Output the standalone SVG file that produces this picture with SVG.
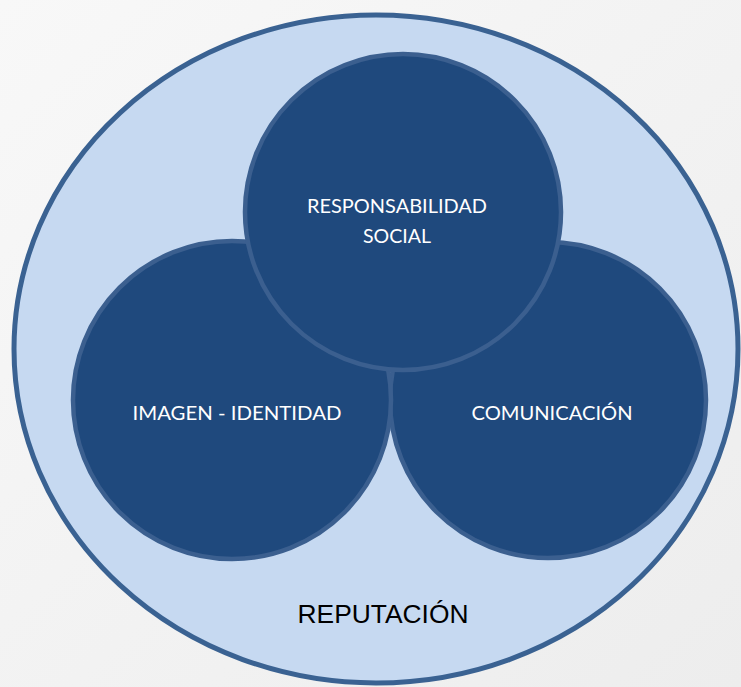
<svg xmlns="http://www.w3.org/2000/svg" width="741" height="687" viewBox="0 0 741 687">
  <defs>
    <linearGradient id="bg" x1="0" y1="0" x2="1" y2="1">
      <stop offset="0" stop-color="#f8f8f8"/>
      <stop offset="1" stop-color="#ededed"/>
    </linearGradient>
    <style>
      .outer { fill: #c6d9f1; stroke: #3a6292; stroke-width: 5; }
      .circ { fill: #1f497d; stroke: #3b5f8f; stroke-width: 4.5; }
      .lbl { font-family: "Lato", "Liberation Sans", sans-serif; font-size: 20px; fill: #ffffff; text-anchor: middle; }
      .rep { font-family: "Liberation Sans", Arial, sans-serif; font-size: 26px; fill: #000000; text-anchor: middle; }
    </style>
  </defs>
  <rect width="741" height="687" fill="url(#bg)"/>
  <g id="reputacion">
    <ellipse class="outer" cx="376" cy="349" rx="362" ry="334"/>
    <text class="rep" x="383" y="623" textLength="171" lengthAdjust="spacingAndGlyphs">REPUTACIÓN</text>
  </g>
  <g id="connectors"/>
  <g id="comunicacion">
    <circle class="circ" cx="548" cy="400" r="158"/>
    <text class="lbl" x="552" y="420" textLength="161" lengthAdjust="spacingAndGlyphs">COMUNICACIÓN</text>
  </g>
  <g id="imagen-identidad">
    <circle class="circ" cx="232" cy="400" r="159"/>
    <text class="lbl" x="237" y="420" textLength="209" lengthAdjust="spacingAndGlyphs">IMAGEN - IDENTIDAD</text>
  </g>
  <g id="responsabilidad-social">
    <circle class="circ" cx="403" cy="212" r="158"/>
    <text class="lbl" x="397" y="213" textLength="180" lengthAdjust="spacingAndGlyphs">RESPONSABILIDAD</text>
    <text class="lbl" x="397" y="243" textLength="68" lengthAdjust="spacingAndGlyphs">SOCIAL</text>
  </g>
</svg>
